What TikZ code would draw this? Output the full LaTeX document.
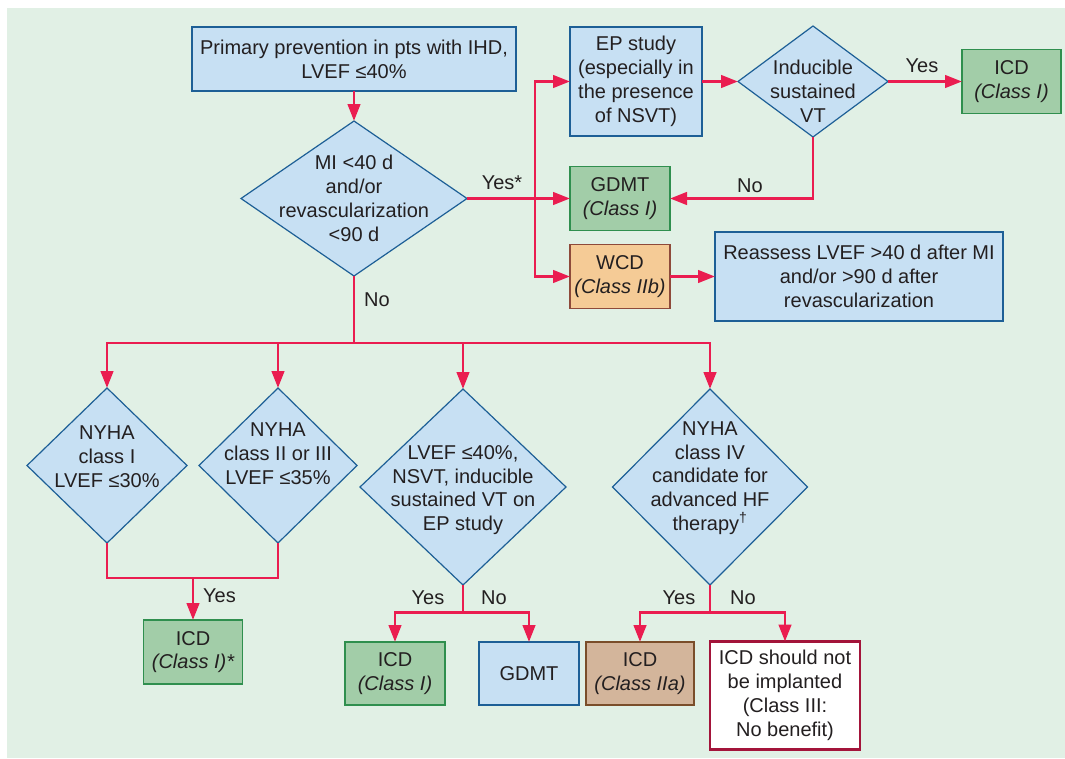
\documentclass[tikz,border=0pt]{standalone}
\usepackage{fontspec}
\setmainfont{Liberation Sans}
\usetikzlibrary{arrows.meta,shapes.geometric}
\definecolor{bgc}{HTML}{E1F0E5}
\definecolor{lblue}{HTML}{C7E0F3}
\definecolor{bblue}{HTML}{1D5F96}
\definecolor{gfill}{HTML}{A2CDA8}
\definecolor{gline}{HTML}{2F8F4E}
\definecolor{ofill}{HTML}{F5CB96}
\definecolor{oline}{HTML}{8E4A3A}
\definecolor{brfill}{HTML}{D3B59B}
\definecolor{brline}{HTML}{7A4E2A}
\definecolor{ared}{HTML}{EA1D50}
\definecolor{dred}{HTML}{A3143A}
\definecolor{tcol}{HTML}{231F20}
\newcommand\myfs{\fontsize{20}{23.8}\selectfont}
\tikzset{
  every node/.style={font=\myfs, text=tcol},
  boxbase/.style={rectangle, align=center, inner sep=0pt, outer sep=0pt, line width=1.4pt},
  bbox/.style={boxbase, draw=bblue, fill=lblue},
  gbox/.style={boxbase, draw=gline, fill=gfill},
  obox/.style={boxbase, draw=oline, fill=ofill},
  brbox/.style={boxbase, draw=brline, fill=brfill},
  rbox/.style={boxbase, draw=dred, fill=white, line width=2.8pt},
  dia/.style={diamond, draw=bblue, fill=lblue, line width=1.2pt, inner sep=0pt, outer sep=0pt},
  txt/.style={align=center, inner sep=0pt},
  lbl/.style={inner sep=0pt},
  ln/.style={draw=ared, line width=2.9pt},
  arr/.style={ln, -{Triangle[length=17pt,width=12.5pt]}},
}
\begin{document}
\begin{tikzpicture}[x=1pt,y=-1pt]
\fill[white] (0,0) rectangle (1065,758);
\useasboundingbox (0,0) rectangle (1065,758);
\fill[bgc] (7,8) rectangle (1065,758);

% top section
\node[bbox, minimum width=324pt, minimum height=64pt] (prim) at (354,59)
  {Primary prevention in pts with IHD,\\LVEF ≤40\%};
\node[dia, minimum width=226pt, minimum height=155pt] (mi) at (354,198.5) {};
\node[txt] at (mi.center) {MI <40 d\\and/or\\revascularization\\<90 d};

\node[bbox, minimum width=132pt, minimum height=109pt] (ep) at (636,81.5)
  {EP study\\(especially in\\the presence\\of NSVT)};
\node[dia, minimum width=150pt, minimum height=111pt] (ind) at (813,81.5) {};
\node[txt] at ([yshift=-10pt]ind.center) {Inducible\\sustained\\VT};
\node[gbox, minimum width=99pt, minimum height=64pt] (icda) at (1011.5,81.5)
  {ICD\\\itshape (Class I)};
\node[gbox, minimum width=100pt, minimum height=64pt] (gd) at (620,198.5)
  {GDMT\\\itshape (Class I)};
\node[obox, minimum width=100pt, minimum height=64pt] (wcd) at (620,276.5)
  {WCD\\\itshape (Class IIb)};
\node[bbox, minimum width=288pt, minimum height=89pt] (re) at (859,276.5)
  {Reassess LVEF >40 d after MI\\and/or >90 d after\\revascularization};

% middle diamonds
\node[dia, minimum width=160pt, minimum height=155pt] (d1) at (107,465.5) {};
\node[txt] at ([yshift=9pt]d1.center) {NYHA\\class I\\LVEF ≤30\%};
\node[dia, minimum width=158pt, minimum height=155pt] (d2) at (278,465.5) {};
\node[txt] at ([yshift=12pt]d2.center) {NYHA\\class II or III\\LVEF ≤35\%};
\node[dia, minimum width=206pt, minimum height=196pt] (d3) at (463,487) {};
\node[txt] at ([yshift=-3pt]d3.center) {LVEF ≤40\%,\\NSVT, inducible\\sustained VT on\\EP study};
\node[dia, minimum width=195pt, minimum height=196pt] (d4) at (710,487) {};
\node[txt] at ([yshift=9pt]d4.center) {NYHA\\class IV\\candidate for\\advanced HF\\therapy\textsuperscript{†}};

% bottom boxes
\node[gbox, minimum width=99pt, minimum height=64pt] (icdb) at (193,652)
  {ICD\\\itshape (Class I)*};
\node[gbox, minimum width=100pt, minimum height=63pt] (icdc) at (395,673.5)
  {ICD\\\itshape (Class I)};
\node[bbox, minimum width=100pt, minimum height=63pt] (gdb) at (529,673.5) {GDMT};
\node[brbox, minimum width=108pt, minimum height=63pt] (icdd) at (640,673.5)
  {ICD\\\itshape (Class IIa)};
\node[rbox, minimum width=150pt, minimum height=108pt] (nob) at (785,695.5)
  {ICD should not\\be implanted\\(Class III:\\No benefit)};

% connectors top
\draw[arr] (prim.south) -- (mi.north);
\coordinate (sp) at (535,198.5);
\draw[arr] (sp) |- (ep.west);
\draw[arr] (sp) |- (wcd.west);
\draw[arr] (mi.east) -- (gd.west);
\node[lbl] (ly1) at (502,183) {Yes*};
\draw[arr] (ep.east) -- (ind.west);
\draw[arr] (ind.east) -- (icda.west);
\node[lbl] (ly2) at (922,66) {Yes};
\draw[arr] (ind.south) |- (gd.east);
\node[lbl] (ln2) at (750,186) {No};
\draw[arr] (wcd.east) -- (re.west);

% branch to middle
\coordinate (br) at (354,343);
\draw[ln] (mi.south) -- (br);
\node[lbl, anchor=west] (ln1) at (364,300) {No};
\draw[arr] (br) -| (d1.north);
\draw[arr] (br) -| (d2.north);
\draw[arr] (br) -| (d3.north);
\draw[arr] (br) -| (d4.north);

% D1/D2 join
\coordinate (j1) at (193,578);
\draw[ln] (d1.south) |- (j1) -| (d2.south);
\draw[arr] (j1) -- (icdb.north);
\node[lbl, anchor=west] (ly3) at (203,596) {Yes};

% D3
\coordinate (j3) at (463,612.7);
\draw[ln] (d3.south) -- (j3);
\draw[arr] (j3) -| (icdc.north);
\draw[arr] (j3) -| (gdb.north);
\node[lbl] (ly4) at (428,598) {Yes};
\node[lbl] (ln4) at (494,598) {No};

% D4
\coordinate (j4) at (710,612.7);
\draw[ln] (d4.south) -- (j4);
\draw[arr] (j4) -| (icdd.north);
\draw[arr] (j4) -| (nob.north);
\node[lbl] (ly5) at (679,598) {Yes};
\node[lbl] (ln5) at (743,598) {No};
\end{tikzpicture}
\end{document}
